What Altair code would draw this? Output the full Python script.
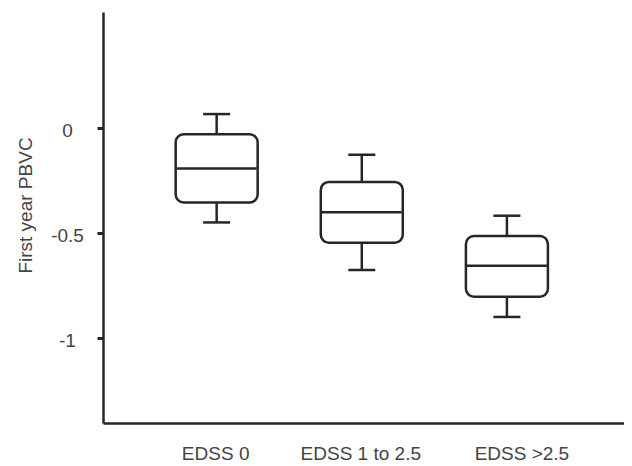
import altair as alt
import pandas as pd

categories = ["EDSS 0", "EDSS 1 to 2.5", "EDSS >2.5"]
whisker_low = [-0.452, -0.679, -0.902]
q1 = [-0.357, -0.549, -0.806]
median = [-0.195, -0.404, -0.658]
q3 = [-0.032, -0.259, -0.517]
whisker_high = [0.064, -0.130, -0.420]

y_ticks = [0, -0.5, -1]

df = pd.DataFrame({
    "group": categories,
    "lo": whisker_low,
    "q1": q1,
    "med": median,
    "q3": q3,
    "hi": whisker_high,
})

INK = "#262626"
TXT = "#444444"
FONT = "Liberation Sans"
FS = 19

x_enc = alt.X(
    "group:N",
    sort=categories,
    scale=alt.Scale(paddingInner=0, paddingOuter=0.295, align=0.48),
    axis=alt.Axis(
        title=None,
        labelAngle=0,
        ticks=False,
        domainColor=INK,
        domainWidth=2.5,
        labelFont=FONT,
        labelFontSize=FS,
        labelColor=TXT,
        labelPadding=21,
        labelBaseline="top",
        labelOffset={"condition": {"test": "datum.value == 'EDSS >2.5'", "value": 15}, "value": -1},
    ),
)

y_scale = alt.Scale(domain=[-1.407, 0.55], nice=False, zero=False)

base = alt.Chart(df).encode(x=x_enc)

whisk = base.mark_rule(color=INK, strokeWidth=2.5, opacity=1).encode(
    y=alt.Y(
        "lo:Q",
        scale=y_scale,
        axis=alt.Axis(
            title="First year PBVC",
            values=y_ticks,
            labelExpr="toString(datum.value)",
            grid=False,
            domainColor=INK,
            domainWidth=2.5,
            tickColor=INK,
            tickWidth=3,
            tickSize=6,
            labelFont=FONT,
            labelFontSize=FS,
            labelColor=TXT,
            labelAlign="center",
            labelBaseline="middle",
            labelPadding=30,
            labelOffset=3,
            titleFont=FONT,
            titleFontWeight="normal",
            titleFontSize=FS,
            titleColor=TXT,
            titleAngle=270,
            titleAlign="center",
            titleBaseline="middle",
            titleX=-78,
            titleY=193,
        ),
    ),
    y2="hi:Q",
)

box = base.mark_bar(
    size=82, fill="white", stroke=INK, strokeWidth=2.5, cornerRadius=8, opacity=1
).encode(y=alt.Y("q1:Q", scale=y_scale), y2="q3:Q")

med = base.mark_tick(size=80, thickness=2.5, color=INK, opacity=1).encode(
    y=alt.Y("med:Q", scale=y_scale)
)
cap_hi = base.mark_tick(size=27, thickness=2.5, color=INK, opacity=1).encode(
    y=alt.Y("hi:Q", scale=y_scale)
)
cap_lo = base.mark_tick(size=27, thickness=2.5, color=INK, opacity=1).encode(
    y=alt.Y("lo:Q", scale=y_scale)
)

chart = (
    alt.layer(whisk, box, med, cap_hi, cap_lo)
    .properties(
        width=521,
        height=411,
        padding={"left": 95, "top": 4, "right": 0, "bottom": 43},
        autosize=alt.AutoSizeParams(type="none"),
        background="white",
    )
    .configure_view(stroke=None)
)

chart.save("out.html", embed_options={"renderer": "svg", "actions": False})
